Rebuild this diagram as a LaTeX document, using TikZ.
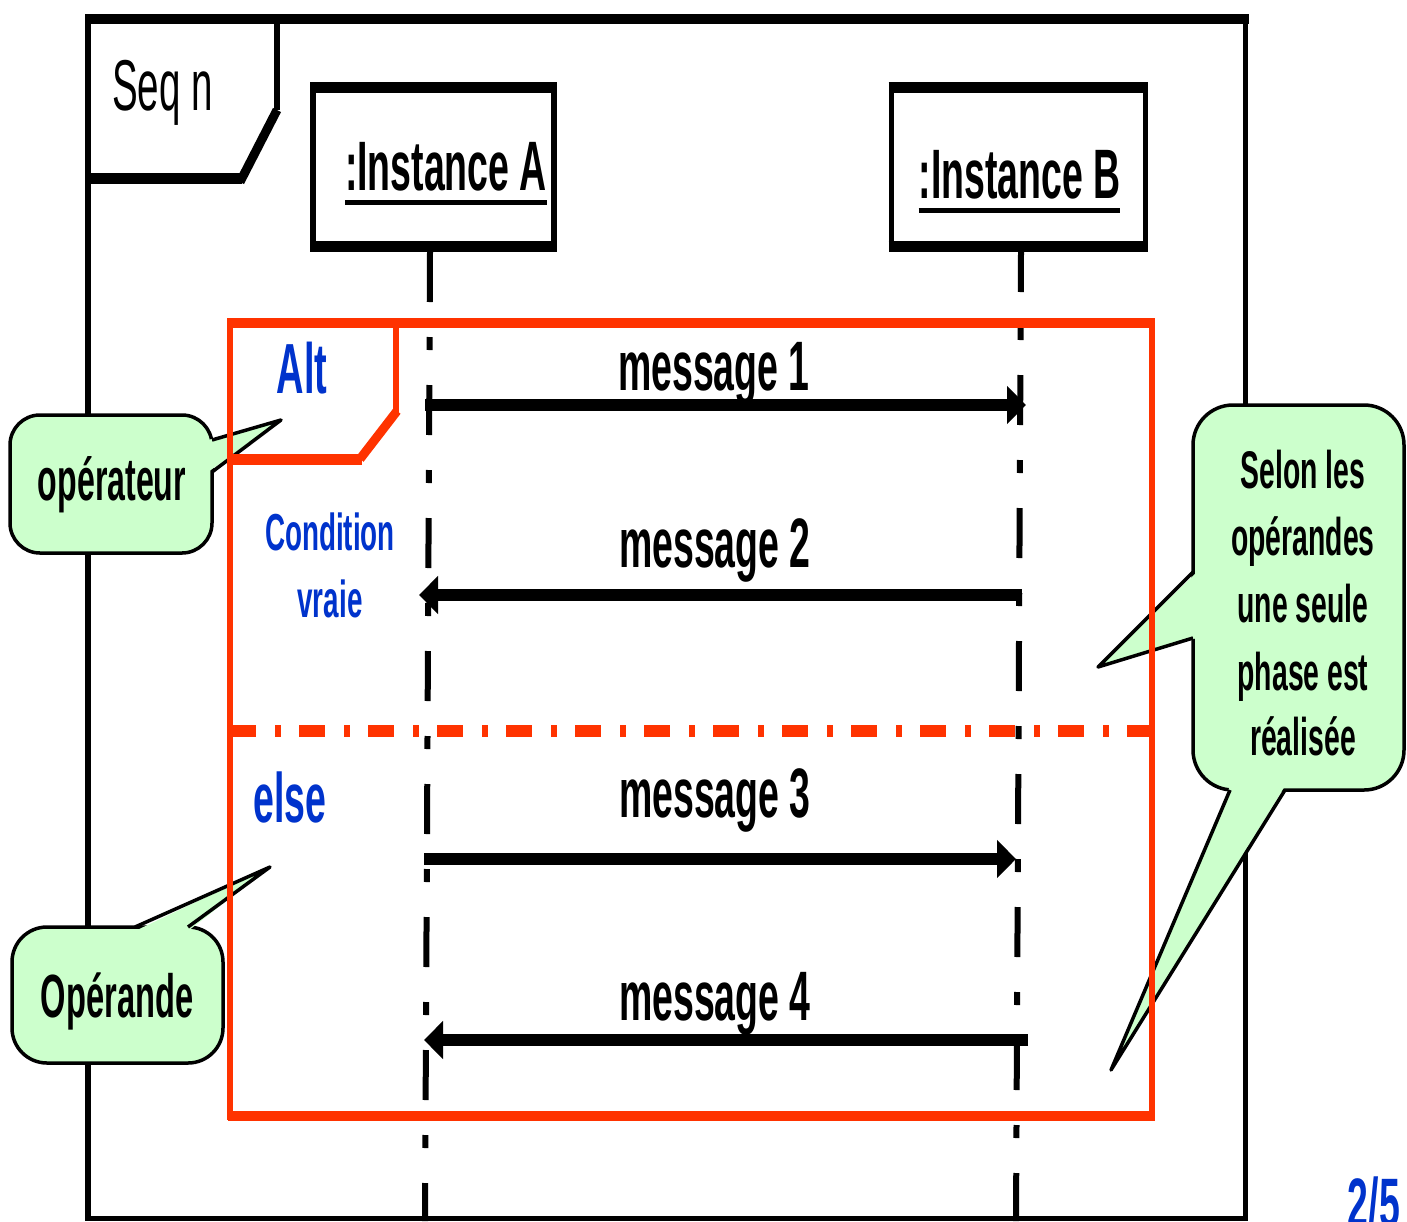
\documentclass[tikz,border=0pt]{standalone}
\usepackage{fontspec}
\setmainfont{Liberation Sans}[FakeStretch=0.535]
\usetikzlibrary{arrows.meta}
\definecolor{umlred}{HTML}{FF3300}
\definecolor{umlblue}{HTML}{0033CC}
\definecolor{notegreen}{HTML}{CCFFCC}
\tikzset{
  txt/.style={inner sep=0pt, outer sep=0pt, anchor=base},
  fbig/.style={font=\fontsize{70}{80}\selectfont\bfseries},
  fcond/.style={font=\fontsize{52}{60}\selectfont\bfseries},
  fnote/.style={font=\fontsize{53}{60}\selectfont\bfseries},
  lifeline/.style={line width=6pt, dash pattern=on 50pt off 35pt on 13pt off 35pt},
  msg/.style={line width=12pt, -{Triangle[length=19pt,width=37pt]}},
  notebox/.style={fill=notegreen, draw=black, line width=3.5pt},
  noteedge/.style={draw=black, line width=3.5pt, line join=round},
  hthick/.style={line width=11pt},
  vthin/.style={line width=5.5pt},
}
\begin{document}
\begin{tikzpicture}[x=1pt,y=-1pt]
\useasboundingbox (0,0) rectangle (1407,1221);
\fill[white] (0,0) rectangle (1407,1221);

% outer sequence frame
\draw[line width=10pt] (85.5,19) -- (1248.5,19);
\draw[vthin] (88,14) -- (88,1221);
\draw[vthin] (1245.5,14) -- (1245.5,1221);
\draw[line width=5pt] (85,1218.5) -- (1248,1218.5);
% Seq n tab
\draw[line width=6pt] (276.5,19) -- (276.5,110);
\draw[line width=9pt] (277,110) -- (240,182);
\draw[hthick] (88,178) -- (242,178);
\node[txt, anchor=base west, font=\fontsize{72}{80}\selectfont] (tseq) at (112,110) {Seq n};

% instance boxes
\node[minimum width=241pt, minimum height=158.5pt, inner sep=0pt] (boxA) at (433.5,166.75) {};
\node[minimum width=254pt, minimum height=159pt, inner sep=0pt] (boxB) at (1018.5,167) {};
\foreach \b in {boxA,boxB}{
  \draw[hthick] ([xshift=-2.75pt]\b.north west) -- ([xshift=2.75pt]\b.north east);
  \draw[hthick] ([xshift=-2.75pt]\b.south west) -- ([xshift=2.75pt]\b.south east);
  \draw[vthin] (\b.north west) -- (\b.south west);
  \draw[vthin] (\b.north east) -- (\b.south east);
}
\node[txt, fbig] (tia) at (446,190) {:Instance A};
\node[txt, fbig] (tib) at (1019.5,198) {:Instance B};
\draw[line width=5pt] ([yshift=-12pt]tia.base west) -- ([yshift=-12pt]tia.base east);
\draw[line width=5pt] ([yshift=-12pt]tib.base west) -- ([yshift=-12pt]tib.base east);

% lifelines
\coordinate (laTop) at (430,252);
\coordinate (laBot) at (425,1221);
\coordinate (lbTop) at (1021,252);
\coordinate (lbBot) at (1016,1221);
\draw[lifeline] (laTop) -- (laBot);
\draw[lifeline, dash phase=10pt] (lbTop) -- (lbBot);

% callout: operateur
\draw[notebox, rounded corners=30pt] (10,415) rectangle (212,553);
\fill[notegreen] (208,440) -- (281,420) -- (208,472) -- cycle;
\draw[noteedge] (212,440) -- (281,420) -- (212,472);
\node[txt, font=\fontsize{60}{66}\selectfont\bfseries] (top) at (112,500) {opérateur};

% callout: Operande
\draw[notebox, rounded corners=35pt] (12,927) rectangle (223,1063);
\fill[notegreen] (135,931) -- (270,867) -- (188,931) -- cycle;
\draw[noteedge] (135,927) -- (270,867) -- (188,927);
\node[txt, font=\fontsize{61}{66}\selectfont\bfseries] (topd) at (117,1017) {Opérande};

% callout: right note
\draw[notebox, rounded corners=40pt] (1193,405) rectangle (1404,790);
\fill[notegreen] (1197,572) -- (1098,667) -- (1197,638) -- cycle;
\draw[noteedge] (1193,572) -- (1098,667) -- (1193,638);
\fill[notegreen] (1230,786) -- (1111,1070) -- (1285,786) -- cycle;
\draw[noteedge] (1230,790) -- (1111,1070) -- (1285,790);
\node[txt, fnote] (tr1) at (1303,488) {Selon les};
\node[txt, fnote] (tr2) at (1303,555) {opérandes};
\node[txt, fnote] (tr3) at (1303,622) {une seule};
\node[txt, fnote] (tr4) at (1303,690) {phase est};
\node[txt, fnote] (tr5) at (1303,755) {réalisée};

% alt combined fragment
\begin{scope}[umlred]
\draw[line width=10pt] (227.5,322.5) -- (1154.5,322.5);
\draw[line width=10pt] (227.5,1115.5) -- (1154.5,1115.5);
\draw[vthin] (230,318) -- (230,1120);
\draw[vthin] (1152,318) -- (1152,1120);
\draw[line width=6pt] (396,322) -- (396,413);
\draw[line width=9pt] (397,411) -- (360,459);
\draw[line width=11pt] (230,459) -- (362,459);
\draw[line width=12pt, dash pattern=on 26pt off 19pt on 6pt off 18pt] (230,731) -- (1152,731);
\end{scope}
\node[txt, fbig, text=umlblue, font=\fontsize{71}{80}\selectfont\bfseries] (talt) at (302,393) {Alt};
\node[txt, fcond, text=umlblue] (tc1) at (330,550) {Condition};
\node[txt, fcond, text=umlblue] (tc2) at (330,617) {vraie};
\node[txt, fbig, text=umlblue] (telse) at (290,822) {else};

% messages
\coordinate (a1) at (425,405);   \coordinate (b1) at (1026,405);
\coordinate (b2) at (1022,595);  \coordinate (a2) at (419,595);
\coordinate (a3) at (424,859);   \coordinate (b3) at (1016,859);
\coordinate (b4) at (1028,1040); \coordinate (a4) at (424,1040);
\draw[msg] (a1) -- (b1);
\draw[msg] (b2) -- (a2);
\draw[msg] (a3) -- (b3);
\draw[msg] (b4) -- (a4);
\node[txt, fbig] (tm1) at (714,390) {message 1};
\node[txt, fbig] (tm2) at (715,567) {message 2};
\node[txt, fbig] (tm3) at (715,817) {message 3};
\node[txt, fbig] (tm4) at (715,1020) {message 4};

% page number
\node[txt, fbig, text=umlblue] (tpage) at (1374,1227) {2/5};
\end{tikzpicture}
\end{document}
